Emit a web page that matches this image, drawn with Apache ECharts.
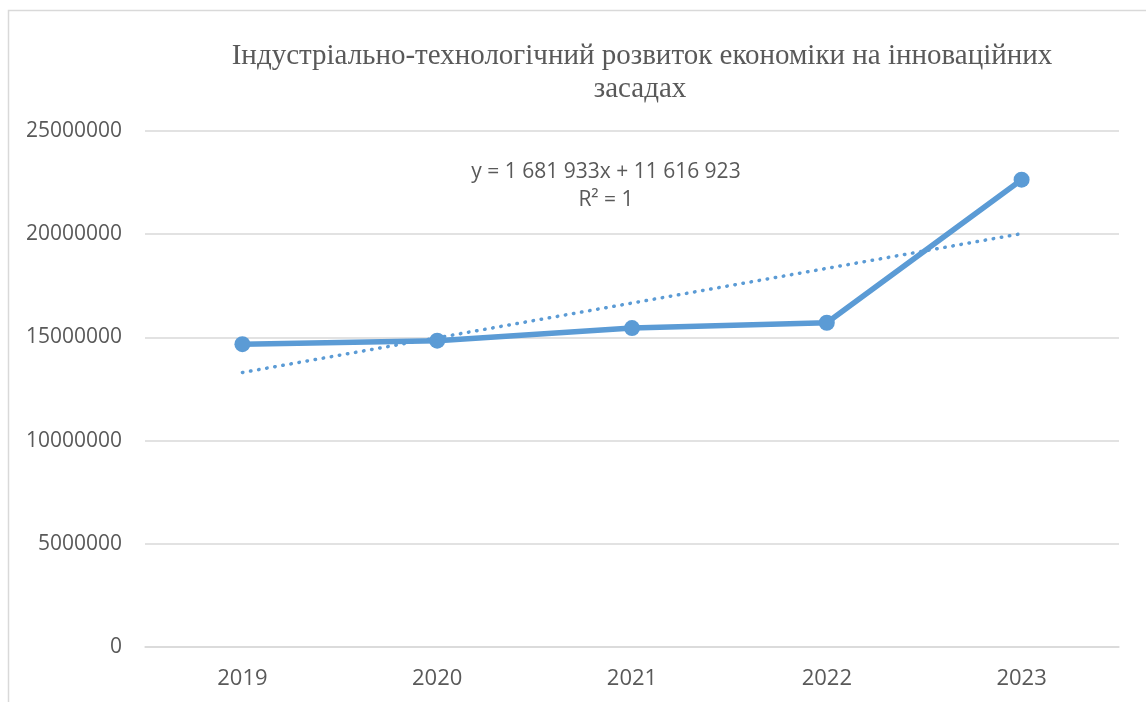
<!DOCTYPE html>
<html>
<head>
<meta charset="utf-8">
<script src="https://cdn.jsdelivr.net/npm/echarts@6/dist/echarts.min.js"></script>
<style>html,body{margin:0;padding:0;background:#fff}#c{width:1146px;height:702px}</style>
</head>
<body>
<div id="c"></div>
<script>
const categories = ['2019', '2020', '2021', '2022', '2023'];
const values = [14670000, 14840000, 15450000, 15710000, 22640000];
const trendValues = [13298856, 14980789, 16662722, 18344655, 20026588];
const titleLines = ['Індустріально-технологічний розвиток економіки на інноваційних', 'засадах'];
const equationLines = ['y = 1 681 933x + 11 616 923', 'R² = 1'];

const chart = echarts.init(document.getElementById('c'));
chart.setOption({
  animation: false,
  grid: { left: 145, right: 27, top: 131, bottom: 55 },
  graphic: [
    { type: 'rect', shape: { x: 8.5, y: 10.5, width: 1160, height: 720 }, style: { fill: 'none', stroke: '#d9d9d9', lineWidth: 1.5 }, silent: true },
    { type: 'text', x: 642, y: 56, style: { text: titleLines[0], font: '29px "Liberation Serif"', fill: '#595959', align: 'center', verticalAlign: 'middle' } },
    { type: 'text', x: 640, y: 89, style: { text: titleLines[1], font: '29px "Liberation Serif"', fill: '#595959', align: 'center', verticalAlign: 'middle' } },
    { type: 'text', x: 606, y: 172, style: { text: equationLines[0], font: '21px "Open Sans"', fill: '#595959', align: 'center', verticalAlign: 'middle' } },
    { type: 'text', x: 606, y: 200, style: { text: equationLines[1], font: '21px "Open Sans"', fill: '#595959', align: 'center', verticalAlign: 'middle' } }
  ],
  xAxis: {
    type: 'category',
    data: categories,
    boundaryGap: true,
    axisLine: { lineStyle: { color: '#d9d9d9', width: 1.5 } },
    axisTick: { show: false },
    axisLabel: { color: '#595959', fontFamily: 'Open Sans', fontSize: 22, margin: 21 }
  },
  yAxis: {
    type: 'value',
    min: 0, max: 25000000, interval: 5000000,
    axisLine: { show: false },
    axisTick: { show: false },
    splitLine: { lineStyle: { color: '#d9d9d9', width: 1.5 } },
    axisLabel: { color: '#595959', fontFamily: 'Open Sans', fontSize: 21, margin: 23, formatter: function (v) { return String(v); } }
  },
  series: [
    {
      type: 'line', data: values, symbol: 'circle', symbolSize: 16,
      lineStyle: { color: '#5b9bd5', width: 5.5 }, itemStyle: { color: '#5b9bd5' }, z: 3
    },
    {
      type: 'line', data: trendValues, symbol: 'none',
      lineStyle: { color: '#5b9bd5', width: 3.5, type: [0.5, 7.7], cap: 'round' }, z: 4
    }
  ]
});
</script>
</body>
</html>
